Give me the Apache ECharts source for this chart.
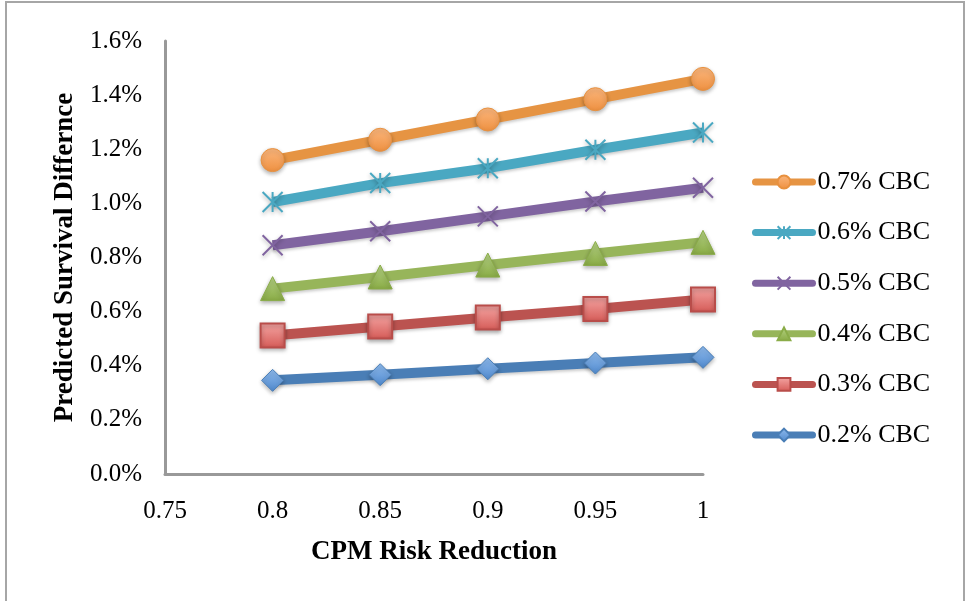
<!DOCTYPE html>
<html>
<head>
<meta charset="utf-8">
<script src="https://cdn.jsdelivr.net/npm/echarts@6/dist/echarts.min.js"></script>
<style>
html, body { margin: 0; padding: 0; background: #fff; }
#container { width: 966px; height: 601px; }
</style>
</head>
<body>
<div id="container"></div>
<script>
var dom = document.getElementById("container");
var myChart = echarts.init(dom);

// x values (CPM risk reduction)
var riskReduction = [0.8, 0.85, 0.9, 0.95, 1];
// predicted survival difference, in percent
var cbc07 = [1.16, 1.235, 1.31, 1.385, 1.46];
var cbc06 = [1.005, 1.075, 1.13, 1.198, 1.262];
var cbc05 = [0.845, 0.897, 0.952, 1.007, 1.058];
var cbc04 = [0.685, 0.728, 0.772, 0.815, 0.856];
var cbc03 = [0.512, 0.545, 0.578, 0.61, 0.645];
var cbc02 = [0.346, 0.367, 0.389, 0.41, 0.431];
var seriesNames = ['0.7% CBC', '0.6% CBC', '0.5% CBC', '0.4% CBC', '0.3% CBC', '0.2% CBC'];

function pairs(ys) {
    return riskReduction.map(function (x, i) { return [x, ys[i]]; });
}

function grad(top, bottom) {
    return new echarts.graphic.LinearGradient(0, 0, 0, 1, [
        { offset: 0, color: top },
        { offset: 1, color: bottom }
    ]);
}

var font = 'Liberation Serif';
var shadow = { shadowBlur: 4, shadowColor: 'rgba(0,0,0,0.3)', shadowOffsetY: 2 };

function makeSeries(name, ys, lineColor, symbol, size, itemStyle) {
    return {
        name: name,
        type: 'line',
        data: pairs(ys),
        symbol: symbol,
        symbolSize: size,
        lineStyle: { color: lineColor, width: 10, shadowBlur: 3, shadowColor: 'rgba(0,0,0,0.2)', shadowOffsetY: 2 },
        itemStyle: Object.assign({}, shadow, itemStyle),
        emphasis: { disabled: true }
    };
}

var starPath = 'path://M0 0L20 20M20 0L0 20M10 0L10 20';
var crossPath = 'path://M0 0L20 20M20 0L0 20';

var option = {
    animation: false,
    textStyle: { fontFamily: font },
    graphic: [{
        type: 'rect',
        shape: { x: 6, y: 2, width: 958, height: 620 },
        style: { fill: 'none', stroke: '#a6a6a6', lineWidth: 2 },
        silent: true
    }],
    grid: { left: 165, right: 263, top: 41, bottom: 127 },
    legend: {
        orient: 'vertical',
        left: 747,
        top: 164,
        itemWidth: 57,
        itemHeight: 16,
        itemGap: 24.6,
        data: seriesNames,
        lineStyle: { width: 7, cap: 'round' },
        textStyle: { fontFamily: font, fontSize: 26, color: '#000', lineHeight: 26 }
    },
    xAxis: {
        type: 'value',
        min: 0.75,
        max: 1,
        interval: 0.05,
        name: 'CPM Risk Reduction',
        nameLocation: 'middle',
        nameGap: 65,
        nameTextStyle: { fontFamily: font, fontSize: 27, fontWeight: 'bold', color: '#000' },
        axisLine: { lineStyle: { color: '#999', width: 3 } },
        axisTick: { show: false },
        splitLine: { show: false },
        axisLabel: {
            fontFamily: font, fontSize: 25, color: '#000', margin: 25,
            formatter: function (v) { return String(parseFloat(v.toFixed(2))); }
        }
    },
    yAxis: {
        type: 'value',
        min: 0,
        max: 1.6,
        interval: 0.2,
        name: 'Predicted Survival Differnce',
        nameLocation: 'middle',
        nameGap: 86,
        nameTextStyle: { fontFamily: font, fontSize: 27, fontWeight: 'bold', color: '#000' },
        axisLine: { show: true, lineStyle: { color: '#999', width: 3 } },
        axisTick: { show: false },
        splitLine: { show: false },
        axisLabel: {
            fontFamily: font, fontSize: 25, color: '#000', margin: 23,
            formatter: function (v) { return v.toFixed(1) + '%'; }
        }
    },
    series: [
        makeSeries('0.7% CBC', cbc07, '#e69443', 'circle', 23,
            { color: grad('#fbb77e', '#ee9040'), borderColor: '#e8913f', borderWidth: 1 }),
        makeSeries('0.6% CBC', cbc06, '#4aa8c2', starPath, 20,
            { color: '#4aa8c2', borderColor: '#4aa8c2', borderWidth: 2 }),
        makeSeries('0.5% CBC', cbc05, '#8064a0', crossPath, 20,
            { color: '#8064a0', borderColor: '#8064a0', borderWidth: 2 }),
        makeSeries('0.4% CBC', cbc04, '#97b55a', 'triangle', 24,
            { color: grad('#b7d486', '#88aa44'), borderColor: '#8aac48', borderWidth: 1 }),
        makeSeries('0.3% CBC', cbc03, '#bb5350', 'rect', 24,
            { color: grad('#f4a6a4', '#d55a56'), borderColor: '#b94d4a', borderWidth: 2 }),
        makeSeries('0.2% CBC', cbc02, '#4a7eb6', 'diamond', 22,
            { color: grad('#8fbbee', '#4f88cc'), borderColor: '#4a7eb6', borderWidth: 1 })
    ]
};

myChart.setOption(option, true);
</script>
</body>
</html>
